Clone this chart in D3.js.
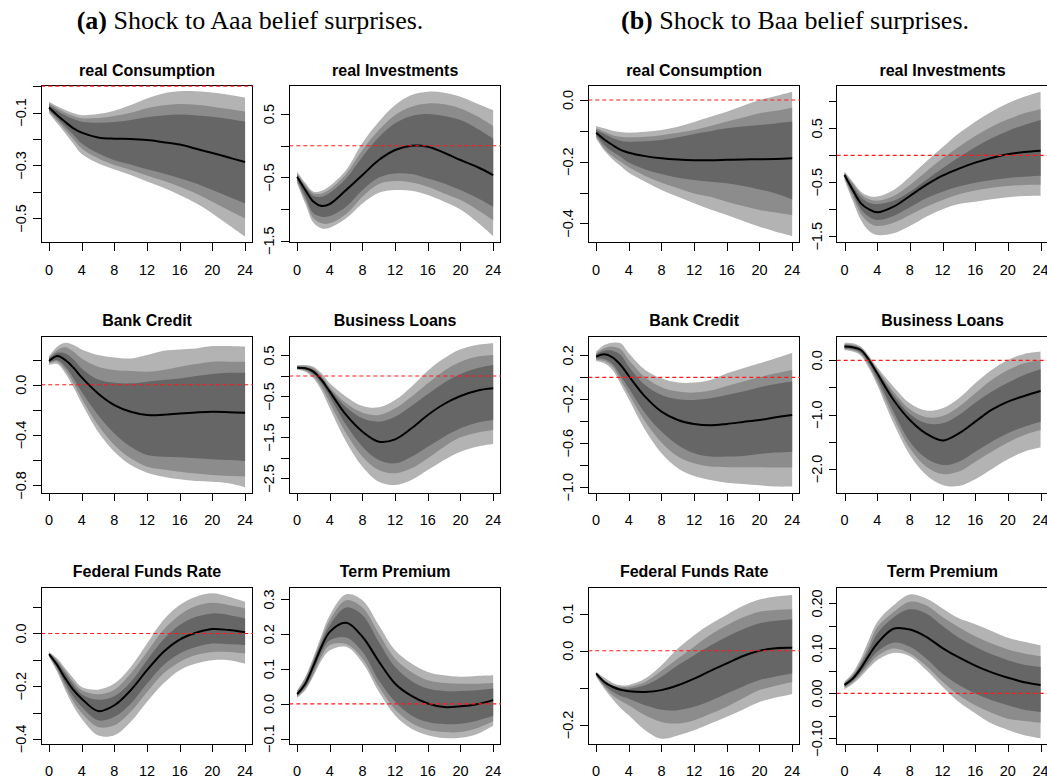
<!DOCTYPE html>
<html>
<head>
<meta charset="utf-8">
<script src="https://cdn.jsdelivr.net/npm/d3@7"></script>
<style>
  body { margin: 0; background: #fff; }
  svg { display: block; }
</style>
</head>
<body>
<svg id="chart" width="1047" height="780"></svg>
<script>
// Impulse-response horizons (quarters) at which each band edge and median is stored
const horizons = [0, 1, 2, 3, 4, 6, 8, 10, 12, 14, 16, 18, 20, 22, 24];
const xTicks = [0, 4, 8, 12, 16, 20, 24];

// ---------- (a) Shock to Aaa belief surprises ----------
// real Consumption
const aCons_lo3 = [-0.103,-0.141,-0.179,-0.219,-0.257,-0.292,-0.315,-0.336,-0.361,-0.384,-0.412,-0.443,-0.481,-0.525,-0.569];
const aCons_lo2 = [-0.097,-0.131,-0.166,-0.202,-0.236,-0.273,-0.298,-0.317,-0.338,-0.358,-0.380,-0.406,-0.437,-0.469,-0.500];
const aCons_lo1 = [-0.091,-0.122,-0.154,-0.185,-0.217,-0.254,-0.280,-0.296,-0.314,-0.330,-0.348,-0.368,-0.393,-0.418,-0.443];
const aCons_med = [-0.081,-0.110,-0.136,-0.160,-0.176,-0.194,-0.199,-0.200,-0.204,-0.212,-0.221,-0.237,-0.253,-0.270,-0.287];
const aCons_hi1 = [-0.072,-0.093,-0.111,-0.125,-0.135,-0.139,-0.136,-0.128,-0.118,-0.111,-0.108,-0.111,-0.116,-0.125,-0.135];
const aCons_hi2 = [-0.065,-0.084,-0.101,-0.113,-0.122,-0.121,-0.113,-0.101,-0.084,-0.073,-0.068,-0.071,-0.078,-0.087,-0.097];
const aCons_hi3 = [-0.059,-0.076,-0.091,-0.103,-0.110,-0.106,-0.093,-0.072,-0.047,-0.028,-0.020,-0.020,-0.024,-0.033,-0.044];
const aCons_yTicks = [-0.5, -0.4, -0.3, -0.2, -0.1, 0.0];
const aCons_yLabels = ["\u22120.5", "", "\u22120.3", "", "\u22120.1", ""];

// real Investments
const aInv_lo3 = [-0.595,-0.911,-1.216,-1.305,-1.295,-1.147,-0.911,-0.742,-0.700,-0.711,-0.779,-0.884,-1.005,-1.200,-1.426];
const aInv_lo2 = [-0.568,-0.858,-1.147,-1.226,-1.226,-1.079,-0.805,-0.605,-0.558,-0.579,-0.647,-0.753,-0.858,-1.005,-1.174];
const aInv_lo1 = [-0.542,-0.805,-1.068,-1.121,-1.110,-0.963,-0.700,-0.500,-0.437,-0.447,-0.516,-0.595,-0.700,-0.821,-0.963];
const aInv_med = [-0.489,-0.700,-0.884,-0.950,-0.920,-0.700,-0.463,-0.226,-0.068,0.000,-0.016,-0.111,-0.226,-0.332,-0.463];
const aInv_hi1 = [-0.463,-0.647,-0.795,-0.805,-0.742,-0.516,-0.174,0.132,0.353,0.468,0.500,0.468,0.405,0.274,0.116];
const aInv_hi2 = [-0.437,-0.621,-0.753,-0.753,-0.689,-0.447,-0.068,0.247,0.484,0.616,0.668,0.653,0.589,0.468,0.310];
const aInv_hi3 = [-0.410,-0.585,-0.726,-0.711,-0.637,-0.384,0.047,0.379,0.642,0.800,0.853,0.837,0.774,0.668,0.563];
const aInv_yTicks = [-1.5, -1.0, -0.5, 0.0, 0.5];
const aInv_yLabels = ["\u22121.5", "", "\u22120.5", "", "0.5"];

// Bank Credit
const aBank_lo3 = [0.156,0.164,0.090,-0.021,-0.148,-0.374,-0.532,-0.638,-0.699,-0.731,-0.752,-0.766,-0.771,-0.784,-0.816];
const aBank_lo2 = [0.170,0.183,0.117,0.011,-0.109,-0.321,-0.479,-0.585,-0.652,-0.673,-0.691,-0.705,-0.718,-0.726,-0.731];
const aBank_lo1 = [0.175,0.196,0.143,0.050,-0.056,-0.241,-0.387,-0.493,-0.559,-0.572,-0.577,-0.585,-0.593,-0.599,-0.607];
const aBank_med = [0.188,0.228,0.196,0.135,0.058,-0.069,-0.162,-0.215,-0.241,-0.238,-0.228,-0.220,-0.215,-0.218,-0.223];
const aBank_hi1 = [0.207,0.254,0.249,0.201,0.130,0.042,0.016,0.011,0.024,0.037,0.050,0.069,0.085,0.095,0.095];
const aBank_hi2 = [0.217,0.275,0.297,0.262,0.209,0.143,0.117,0.109,0.103,0.117,0.143,0.164,0.183,0.183,0.183];
const aBank_hi3 = [0.228,0.302,0.334,0.315,0.281,0.236,0.217,0.209,0.236,0.270,0.281,0.289,0.307,0.307,0.302];
const aBank_yTicks = [-0.8, -0.6, -0.4, -0.2, 0.0, 0.2];
const aBank_yLabels = ["\u22120.8", "", "\u22120.4", "", "0.0", ""];

// Business Loans
const aLoan_lo3 = [0.146,0.106,-0.057,-0.358,-0.789,-1.602,-2.211,-2.577,-2.659,-2.537,-2.293,-2.049,-1.846,-1.724,-1.659];
const aLoan_lo2 = [0.171,0.130,0.000,-0.276,-0.650,-1.398,-1.967,-2.293,-2.374,-2.252,-2.008,-1.724,-1.496,-1.382,-1.317];
const aLoan_lo1 = [0.187,0.163,0.049,-0.179,-0.504,-1.195,-1.724,-2.049,-2.130,-1.967,-1.724,-1.480,-1.276,-1.138,-1.073];
const aLoan_med = [0.203,0.187,0.106,-0.098,-0.382,-0.951,-1.358,-1.602,-1.545,-1.276,-0.951,-0.683,-0.488,-0.358,-0.301];
const aLoan_hi1 = [0.228,0.211,0.146,-0.057,-0.325,-0.764,-1.033,-1.114,-0.992,-0.732,-0.439,-0.163,0.049,0.187,0.268];
const aLoan_hi2 = [0.244,0.244,0.187,0.000,-0.276,-0.667,-0.894,-0.951,-0.789,-0.504,-0.179,0.130,0.350,0.472,0.512];
const aLoan_hi3 = [0.268,0.268,0.228,0.065,-0.179,-0.504,-0.732,-0.764,-0.585,-0.260,0.130,0.431,0.650,0.756,0.797];
const aLoan_yTicks = [-2.5, -2.0, -1.5, -1.0, -0.5, 0.0, 0.5];
const aLoan_yLabels = ["\u22122.5", "", "\u22121.5", "", "\u22120.5", "", "0.5"];

// Federal Funds Rate
const aFfr_lo3 = [-0.089,-0.146,-0.215,-0.276,-0.323,-0.386,-0.386,-0.335,-0.259,-0.190,-0.139,-0.114,-0.101,-0.101,-0.114];
const aFfr_lo2 = [-0.085,-0.137,-0.203,-0.259,-0.301,-0.354,-0.348,-0.297,-0.222,-0.152,-0.108,-0.082,-0.070,-0.070,-0.076];
const aFfr_lo1 = [-0.082,-0.129,-0.190,-0.241,-0.278,-0.329,-0.316,-0.266,-0.190,-0.120,-0.076,-0.051,-0.038,-0.041,-0.044];
const aFfr_med = [-0.078,-0.120,-0.171,-0.215,-0.247,-0.294,-0.272,-0.215,-0.139,-0.070,-0.023,0.003,0.017,0.013,0.005];
const aFfr_hi1 = [-0.076,-0.108,-0.152,-0.196,-0.230,-0.251,-0.238,-0.184,-0.101,-0.023,0.032,0.063,0.076,0.070,0.057];
const aFfr_hi2 = [-0.073,-0.101,-0.142,-0.184,-0.215,-0.230,-0.213,-0.152,-0.070,0.013,0.070,0.104,0.116,0.108,0.095];
const aFfr_hi3 = [-0.070,-0.095,-0.133,-0.171,-0.203,-0.213,-0.190,-0.127,-0.038,0.051,0.108,0.139,0.152,0.139,0.120];
const aFfr_yTicks = [-0.4, -0.3, -0.2, -0.1, 0.0, 0.1];
const aFfr_yLabels = ["\u22120.4", "", "\u22120.2", "", "0.0", ""];

// Term Premium
const aTp_lo3 = [0.017,0.039,0.080,0.126,0.154,0.164,0.118,0.035,-0.033,-0.071,-0.090,-0.098,-0.097,-0.087,-0.063];
const aTp_lo2 = [0.020,0.044,0.087,0.137,0.169,0.172,0.130,0.049,-0.016,-0.055,-0.074,-0.081,-0.081,-0.070,-0.050];
const aTp_lo1 = [0.023,0.049,0.097,0.150,0.183,0.191,0.150,0.068,0.006,-0.033,-0.052,-0.058,-0.057,-0.048,-0.035];
const aTp_med = [0.028,0.058,0.110,0.165,0.207,0.233,0.193,0.122,0.058,0.023,0.001,-0.009,-0.007,-0.001,0.011];
const aTp_hi1 = [0.032,0.066,0.121,0.178,0.226,0.277,0.255,0.178,0.106,0.066,0.044,0.037,0.037,0.039,0.044];
const aTp_hi2 = [0.036,0.073,0.128,0.188,0.241,0.298,0.277,0.202,0.130,0.092,0.068,0.060,0.058,0.058,0.060];
const aTp_hi3 = [0.039,0.078,0.135,0.198,0.255,0.315,0.298,0.226,0.154,0.116,0.092,0.082,0.078,0.080,0.082];
const aTp_yTicks = [-0.1, 0.0, 0.1, 0.2, 0.3];
const aTp_yLabels = ["\u22120.1", "0.0", "0.1", "0.2", "0.3"];

// ---------- (b) Shock to Baa belief surprises ----------
// real Consumption
const bCons_lo3 = [-0.124,-0.164,-0.192,-0.214,-0.236,-0.265,-0.292,-0.314,-0.335,-0.355,-0.373,-0.392,-0.411,-0.427,-0.441];
const bCons_lo2 = [-0.119,-0.157,-0.182,-0.200,-0.218,-0.246,-0.268,-0.286,-0.303,-0.314,-0.330,-0.344,-0.357,-0.365,-0.373];
const bCons_lo1 = [-0.114,-0.146,-0.168,-0.184,-0.203,-0.225,-0.240,-0.252,-0.259,-0.265,-0.270,-0.279,-0.290,-0.303,-0.322];
const bCons_med = [-0.106,-0.128,-0.146,-0.162,-0.171,-0.182,-0.189,-0.193,-0.195,-0.195,-0.194,-0.193,-0.192,-0.191,-0.189];
const bCons_hi1 = [-0.097,-0.110,-0.123,-0.132,-0.135,-0.134,-0.130,-0.121,-0.110,-0.101,-0.092,-0.086,-0.081,-0.076,-0.070];
const bCons_hi2 = [-0.092,-0.103,-0.114,-0.119,-0.121,-0.119,-0.114,-0.106,-0.097,-0.084,-0.070,-0.057,-0.043,-0.035,-0.025];
const bCons_hi3 = [-0.084,-0.092,-0.100,-0.104,-0.106,-0.103,-0.097,-0.087,-0.071,-0.054,-0.038,-0.019,0.000,0.013,0.027];
const bCons_yTicks = [-0.4, -0.3, -0.2, -0.1, 0.0];
const bCons_yLabels = ["\u22120.4", "", "\u22120.2", "", "0.0"];

// real Investments
const bInv_lo3 = [-0.457,-0.840,-1.198,-1.401,-1.475,-1.444,-1.309,-1.136,-1.000,-0.901,-0.858,-0.815,-0.778,-0.753,-0.747];
const bInv_lo2 = [-0.426,-0.765,-1.086,-1.247,-1.309,-1.247,-1.105,-0.951,-0.827,-0.722,-0.654,-0.599,-0.568,-0.549,-0.549];
const bInv_lo1 = [-0.395,-0.704,-1.000,-1.136,-1.198,-1.123,-0.963,-0.796,-0.673,-0.580,-0.506,-0.457,-0.420,-0.395,-0.377];
const bInv_med = [-0.364,-0.642,-0.889,-1.000,-1.056,-0.951,-0.753,-0.549,-0.377,-0.247,-0.136,-0.049,0.019,0.062,0.086];
const bInv_hi1 = [-0.346,-0.568,-0.778,-0.877,-0.901,-0.840,-0.673,-0.457,-0.241,-0.037,0.148,0.315,0.451,0.562,0.654];
const bInv_hi2 = [-0.321,-0.519,-0.716,-0.815,-0.840,-0.753,-0.549,-0.302,-0.056,0.160,0.358,0.531,0.667,0.778,0.852];
const bInv_hi3 = [-0.302,-0.488,-0.673,-0.753,-0.765,-0.642,-0.395,-0.117,0.148,0.407,0.623,0.809,0.963,1.086,1.179];
const bInv_yTicks = [-1.5, -1.0, -0.5, 0.0, 0.5, 1.0];
const bInv_yLabels = ["\u22121.5", "", "\u22120.5", "", "0.5", ""];

// Bank Credit
const bBank_lo3 = [0.145,0.127,0.067,-0.061,-0.200,-0.479,-0.691,-0.827,-0.897,-0.933,-0.958,-0.970,-0.982,-0.994,-0.994];
const bBank_lo2 = [0.158,0.148,0.097,-0.024,-0.152,-0.403,-0.594,-0.721,-0.782,-0.812,-0.818,-0.818,-0.818,-0.821,-0.821];
const bBank_lo1 = [0.170,0.164,0.121,0.012,-0.100,-0.327,-0.494,-0.615,-0.691,-0.721,-0.721,-0.715,-0.697,-0.685,-0.676];
const bBank_med = [0.188,0.209,0.182,0.112,0.012,-0.176,-0.312,-0.388,-0.424,-0.436,-0.424,-0.406,-0.388,-0.364,-0.342];
const bBank_hi1 = [0.209,0.242,0.242,0.203,0.097,-0.070,-0.161,-0.200,-0.206,-0.191,-0.161,-0.130,-0.091,-0.061,-0.039];
const bBank_hi2 = [0.218,0.264,0.279,0.255,0.158,0.000,-0.091,-0.130,-0.139,-0.121,-0.079,-0.039,0.000,0.036,0.067];
const bBank_hi3 = [0.233,0.294,0.315,0.309,0.218,0.067,-0.009,-0.048,-0.048,-0.024,0.036,0.082,0.127,0.173,0.224];
const bBank_yTicks = [-1.0, -0.8, -0.6, -0.4, -0.2, 0.0, 0.2];
const bBank_yLabels = ["\u22121.0", "", "\u22120.6", "", "\u22120.2", "", "0.2"];

// Business Loans
const bLoan_lo3 = [0.184,0.160,0.086,-0.147,-0.454,-1.160,-1.742,-2.110,-2.294,-2.313,-2.190,-2.006,-1.822,-1.681,-1.607];
const bLoan_lo2 = [0.202,0.184,0.117,-0.098,-0.393,-1.049,-1.620,-1.957,-2.092,-2.049,-1.865,-1.681,-1.515,-1.374,-1.282];
const bLoan_lo1 = [0.221,0.202,0.141,-0.055,-0.331,-0.945,-1.497,-1.804,-1.926,-1.865,-1.681,-1.497,-1.344,-1.221,-1.129];
const bLoan_med = [0.252,0.239,0.190,0.006,-0.239,-0.730,-1.098,-1.350,-1.475,-1.344,-1.129,-0.914,-0.761,-0.656,-0.564];
const bLoan_hi1 = [0.282,0.270,0.215,0.031,-0.196,-0.638,-0.988,-1.160,-1.160,-1.006,-0.779,-0.577,-0.411,-0.270,-0.166];
const bLoan_hi2 = [0.301,0.288,0.233,0.055,-0.166,-0.577,-0.902,-1.049,-1.025,-0.853,-0.607,-0.362,-0.178,-0.055,0.006];
const bLoan_hi3 = [0.325,0.313,0.252,0.080,-0.129,-0.485,-0.791,-0.926,-0.883,-0.699,-0.423,-0.178,0.006,0.117,0.160];
const bLoan_yTicks = [-2.0, -1.5, -1.0, -0.5, 0.0];
const bLoan_yLabels = ["\u22122.0", "", "\u22121.0", "", "0.0"];

// Federal Funds Rate
const bFfr_lo3 = [-0.070,-0.102,-0.130,-0.155,-0.174,-0.214,-0.237,-0.228,-0.214,-0.196,-0.178,-0.158,-0.138,-0.126,-0.117];
const bFfr_lo2 = [-0.068,-0.097,-0.120,-0.135,-0.147,-0.174,-0.192,-0.196,-0.187,-0.170,-0.151,-0.128,-0.106,-0.094,-0.084];
const bFfr_lo1 = [-0.066,-0.092,-0.110,-0.122,-0.129,-0.147,-0.159,-0.160,-0.151,-0.135,-0.115,-0.096,-0.079,-0.069,-0.061];
const bFfr_med = [-0.061,-0.084,-0.097,-0.105,-0.109,-0.111,-0.106,-0.093,-0.075,-0.054,-0.034,-0.014,0.000,0.007,0.008];
const bFfr_hi1 = [-0.060,-0.082,-0.095,-0.101,-0.102,-0.093,-0.070,-0.039,-0.012,0.014,0.038,0.058,0.074,0.081,0.085];
const bFfr_hi2 = [-0.059,-0.079,-0.092,-0.097,-0.097,-0.084,-0.054,-0.021,0.011,0.043,0.069,0.090,0.105,0.110,0.112];
const bFfr_hi3 = [-0.057,-0.072,-0.086,-0.093,-0.092,-0.075,-0.039,0.006,0.042,0.072,0.097,0.121,0.138,0.146,0.150];
const bFfr_yTicks = [-0.2, -0.1, 0.0, 0.1];
const bFfr_yLabels = ["\u22120.2", "", "0.0", "0.1"];

// Term Premium
const bTp_lo3 = [0.009,0.021,0.037,0.057,0.074,0.090,0.083,0.052,0.015,-0.019,-0.044,-0.067,-0.081,-0.093,-0.100];
const bTp_lo2 = [0.013,0.025,0.043,0.064,0.083,0.100,0.089,0.061,0.026,-0.004,-0.026,-0.043,-0.056,-0.061,-0.065];
const bTp_lo1 = [0.015,0.028,0.048,0.072,0.093,0.113,0.104,0.078,0.044,0.019,0.000,-0.015,-0.026,-0.036,-0.041];
const bTp_med = [0.019,0.033,0.056,0.085,0.111,0.144,0.142,0.126,0.101,0.080,0.062,0.047,0.035,0.025,0.019];
const bTp_hi1 = [0.022,0.038,0.065,0.098,0.133,0.169,0.187,0.178,0.150,0.124,0.104,0.087,0.074,0.064,0.059];
const bTp_hi2 = [0.024,0.041,0.070,0.108,0.147,0.181,0.204,0.196,0.170,0.147,0.127,0.111,0.098,0.089,0.083];
const bTp_hi3 = [0.026,0.046,0.078,0.120,0.159,0.196,0.220,0.211,0.189,0.167,0.154,0.139,0.124,0.115,0.107];
const bTp_yTicks = [-0.10, -0.05, 0.00, 0.05, 0.10, 0.15, 0.20];
const bTp_yLabels = ["\u22120.10", "", "0.00", "", "0.10", "", "0.20"];

// ---------- panel definitions ----------
const panels = [
  { title: "real Consumption",   col: 0, row: 0, yDomain: [-0.591, 0.002], bands: [aCons_lo3, aCons_lo2, aCons_lo1, aCons_med, aCons_hi1, aCons_hi2, aCons_hi3], yTicks: aCons_yTicks, yLabels: aCons_yLabels },
  { title: "real Investments",   col: 1, row: 0, yDomain: [-1.528, 0.951], bands: [aInv_lo3, aInv_lo2, aInv_lo1, aInv_med, aInv_hi1, aInv_hi2, aInv_hi3], yTicks: aInv_yTicks, yLabels: aInv_yLabels },
  { title: "Bank Credit",        col: 0, row: 1, yDomain: [-0.863, 0.385], bands: [aBank_lo3, aBank_lo2, aBank_lo1, aBank_med, aBank_hi1, aBank_hi2, aBank_hi3], yTicks: aBank_yTicks, yLabels: aBank_yLabels },
  { title: "Business Loans",     col: 1, row: 1, yDomain: [-2.861, 0.968], bands: [aLoan_lo3, aLoan_lo2, aLoan_lo1, aLoan_med, aLoan_hi1, aLoan_hi2, aLoan_hi3], yTicks: aLoan_yTicks, yLabels: aLoan_yLabels },
  { title: "Federal Funds Rate", col: 0, row: 2, yDomain: [-0.420, 0.175], bands: [aFfr_lo3, aFfr_lo2, aFfr_lo1, aFfr_med, aFfr_hi1, aFfr_hi2, aFfr_hi3], yTicks: aFfr_yTicks, yLabels: aFfr_yLabels },
  { title: "Term Premium",       col: 1, row: 2, yDomain: [-0.116, 0.335], bands: [aTp_lo3, aTp_lo2, aTp_lo1, aTp_med, aTp_hi1, aTp_hi2, aTp_hi3], yTicks: aTp_yTicks, yLabels: aTp_yLabels },
  { title: "real Consumption",   col: 2, row: 0, yDomain: [-0.462, 0.047], bands: [bCons_lo3, bCons_lo2, bCons_lo1, bCons_med, bCons_hi1, bCons_hi2, bCons_hi3], yTicks: bCons_yTicks, yLabels: bCons_yLabels },
  { title: "real Investments",   col: 3, row: 0, yDomain: [-1.615, 1.293], bands: [bInv_lo3, bInv_lo2, bInv_lo1, bInv_med, bInv_hi1, bInv_hi2, bInv_hi3], yTicks: bInv_yTicks, yLabels: bInv_yLabels },
  { title: "Bank Credit",        col: 2, row: 1, yDomain: [-1.055, 0.373], bands: [bBank_lo3, bBank_lo2, bBank_lo1, bBank_med, bBank_hi1, bBank_hi2, bBank_hi3], yTicks: bBank_yTicks, yLabels: bBank_yLabels },
  { title: "Business Loans",     col: 3, row: 1, yDomain: [-2.448, 0.442], bands: [bLoan_lo3, bLoan_lo2, bLoan_lo1, bLoan_med, bLoan_hi1, bLoan_hi2, bLoan_hi3], yTicks: bLoan_yTicks, yLabels: bLoan_yLabels },
  { title: "Federal Funds Rate", col: 2, row: 2, yDomain: [-0.252, 0.171], bands: [bFfr_lo3, bFfr_lo2, bFfr_lo1, bFfr_med, bFfr_hi1, bFfr_hi2, bFfr_hi3], yTicks: bFfr_yTicks, yLabels: bFfr_yLabels },
  { title: "Term Premium",       col: 3, row: 2, yDomain: [-0.113, 0.236], bands: [bTp_lo3, bTp_lo2, bTp_lo1, bTp_med, bTp_hi1, bTp_hi2, bTp_hi3], yTicks: bTp_yTicks, yLabels: bTp_yLabels }
];

const headers = [
  { tag: "(a)", text: " Shock to Aaa belief surprises.", cx: 250 },
  { tag: "(b)", text: " Shock to Baa belief surprises.", cx: 795 }
];

// ---------- layout & style ----------
const colLeft = [41.2, 289.3, 588.3, 836.7];
const rowTop = [85.5, 336.3, 587.3];
const pw = 211.7, ph = 157;
const bandColors = ["#b3b3b3", "#8c8c8c", "#666666"];
const sansFont = "'Liberation Sans', Arial, Helvetica, sans-serif";
const serifFont = "'Liberation Serif', 'Times New Roman', serif";
const smooth = d3.curveCatmullRom.alpha(0.5);

const svg = d3.select("#chart");

svg.selectAll("text.header")
  .data(headers)
  .join("text")
  .attr("class", "header")
  .attr("x", d => d.cx)
  .attr("y", 29)
  .attr("text-anchor", "middle")
  .style("font-family", serifFont)
  .style("font-size", "26px")
  .each(function (d) {
    const t = d3.select(this);
    t.append("tspan").style("font-weight", "bold").text(d.tag);
    t.append("tspan").text(d.text);
  });

panels.forEach(p => {
  const g = svg.append("g")
    .attr("transform", `translate(${colLeft[p.col]},${rowTop[p.row]})`);

  const x = d3.scaleLinear().domain([-0.96, 24.96]).range([0, pw]);
  const y = d3.scaleLinear().domain(p.yDomain).range([ph, 0]);

  const [lo3, lo2, lo1, med, hi1, hi2, hi3] = p.bands;
  const pairs = [[lo3, hi3], [lo2, hi2], [lo1, hi1]];

  const area = d3.area()
    .x(d => x(d.h))
    .y0(d => y(d.lo))
    .y1(d => y(d.hi))
    .curve(smooth);

  pairs.forEach(([lo, hi], i) => {
    const rows = horizons.map((h, k) => ({ h, lo: lo[k], hi: hi[k] }));
    g.append("path")
      .attr("d", area(rows))
      .attr("fill", bandColors[i]);
  });

  const line = d3.line()
    .x(d => x(d.h))
    .y(d => y(d.v))
    .curve(smooth);

  g.append("path")
    .attr("d", line(horizons.map((h, k) => ({ h, v: med[k] }))))
    .attr("fill", "none")
    .attr("stroke", "#000")
    .attr("stroke-width", 2);

  // plot frame
  g.append("rect")
    .attr("x", 0).attr("y", 0)
    .attr("width", pw).attr("height", ph)
    .attr("fill", "none")
    .attr("stroke", "#000")
    .attr("stroke-width", 1)
    .attr("shape-rendering", "crispEdges");

  // zero reference line
  g.append("line")
    .attr("x1", 0).attr("x2", pw)
    .attr("y1", y(0)).attr("y2", y(0))
    .attr("stroke", "#ff1a1a")
    .attr("stroke-width", 1.2)
    .attr("stroke-dasharray", "4,3");

  // y axis
  const yAxis = g.append("g")
    .call(d3.axisLeft(y).tickValues(p.yTicks).tickSize(8).tickFormat(""));
  yAxis.select(".domain").remove();
  yAxis.selectAll(".tick line").attr("shape-rendering", "crispEdges");
  g.append("line")
    .attr("x1", 0).attr("x2", 0)
    .attr("y1", y(p.yTicks[0])).attr("y2", y(p.yTicks[p.yTicks.length - 1]))
    .attr("stroke", "#000").attr("shape-rendering", "crispEdges");

  g.selectAll("text.ylab")
    .data(p.yTicks.map((t, i) => ({ t, label: p.yLabels[i] })).filter(d => d.label !== ""))
    .join("text")
    .attr("class", "ylab")
    .attr("transform", d => `translate(-15,${y(d.t)}) rotate(-90)`)
    .attr("text-anchor", "middle")
    .style("font-family", sansFont)
    .style("font-size", "14.5px")
    .text(d => d.label);

  // x axis
  const xAxis = g.append("g")
    .attr("transform", `translate(0,${ph})`)
    .call(d3.axisBottom(x).tickValues(xTicks).tickSize(8).tickFormat(""));
  xAxis.select(".domain").remove();
  xAxis.selectAll(".tick line").attr("shape-rendering", "crispEdges");

  g.selectAll("text.xlab")
    .data(xTicks)
    .join("text")
    .attr("class", "xlab")
    .attr("x", d => x(d))
    .attr("y", ph + 32)
    .attr("text-anchor", "middle")
    .style("font-family", sansFont)
    .style("font-size", "14.5px")
    .text(d => d);

  // panel title
  g.append("text")
    .attr("x", pw / 2)
    .attr("y", -10)
    .attr("text-anchor", "middle")
    .style("font-family", sansFont)
    .style("font-size", "16px")
    .style("font-weight", "bold")
    .text(p.title);
});
</script>
</body>
</html>
